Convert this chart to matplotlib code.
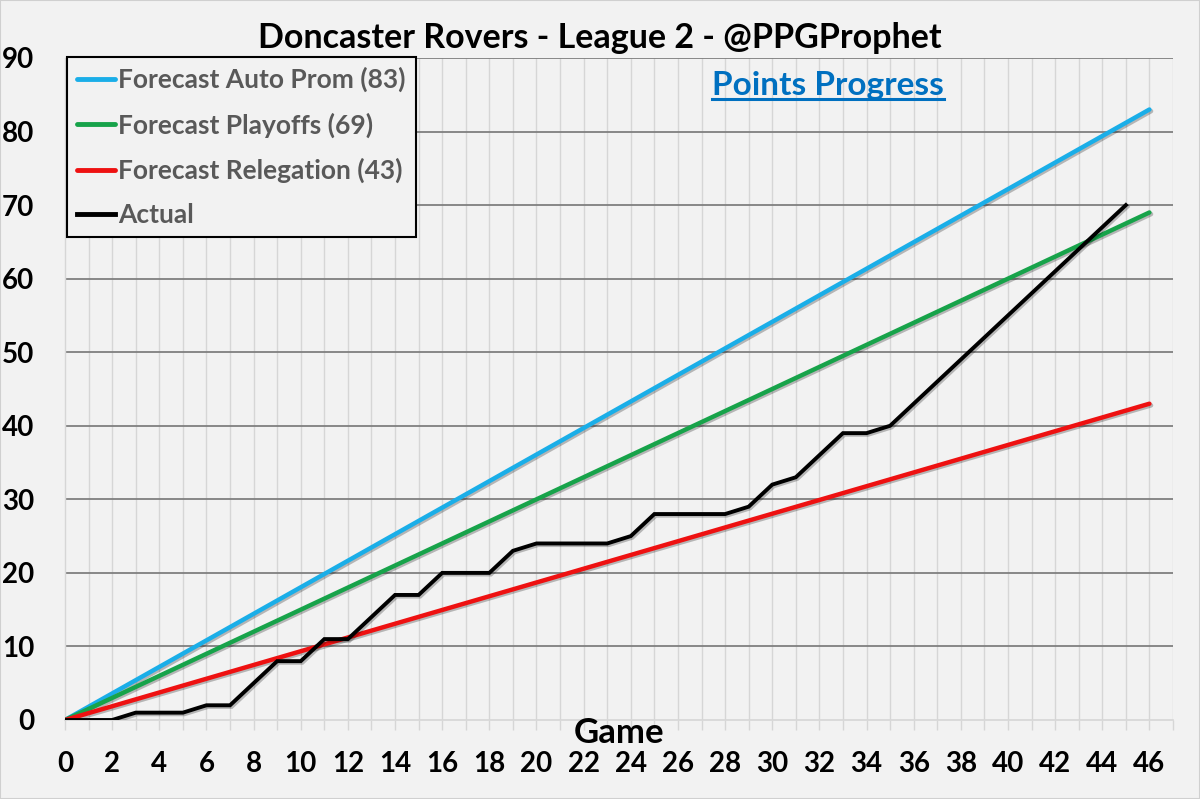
import matplotlib.pyplot as plt
import matplotlib.patheffects as pe
from matplotlib.lines import Line2D

# Forecast lines: straight from game 0 to game 46
forecast_games = [0, 46]
auto_prom = [0, 83]
playoffs = [0, 69]
relegation = [0, 43]

# Actual points, games 0..45
actual_games = list(range(0, 46))
actual_points = [0, 0, 0, 1, 1, 1, 2, 2, 5, 8, 8, 11, 11, 14, 17, 17, 20, 20, 20, 23,
                 24, 24, 24, 24, 25, 28, 28, 28, 28, 29, 32, 33, 36, 39, 39, 40, 43, 46,
                 49, 52, 55, 58, 61, 64, 67, 70]

x_ticks = list(range(0, 47, 2))
y_ticks = list(range(0, 91, 10))

plt.rcParams['font.family'] = ['Lato', 'DejaVu Sans']
plt.rcParams['font.weight'] = 'bold'

bg = '#f2f2f2'
dpi = 100
fig = plt.figure(figsize=(12, 7.99), dpi=dpi, facecolor=bg)
ax = fig.add_axes([65 / 1200, 79 / 799, (1173 - 65) / 1200, (720 - 58) / 799])
ax.set_facecolor(bg)

shadow = [pe.SimpleLineShadow(offset=(1.2, -1.2), alpha=0.25, shadow_color='black'), pe.Normal()]

ax.plot(forecast_games, auto_prom, color='#1aaee8', lw=3.2, solid_capstyle='round',
        label='Forecast Auto Prom (83)', path_effects=shadow, zorder=3)
ax.plot(forecast_games, playoffs, color='#17a34a', lw=3.2, solid_capstyle='round',
        label='Forecast Playoffs (69)', path_effects=shadow, zorder=3)
ax.plot(forecast_games, relegation, color='#ee1111', lw=3.2, solid_capstyle='round',
        label='Forecast Relegation (43)', path_effects=shadow, zorder=3)
ax.plot(actual_games, actual_points, color='black', lw=2.8, solid_joinstyle='miter',
        label='Actual', path_effects=shadow, zorder=4)

ax.set_xlim(0, 47)
ax.set_ylim(0, 90)

# vertical grid at every game, horizontal grid every 10
ax.set_xticks(x_ticks)
ax.set_xticks(range(0, 48), minor=True)
ax.set_yticks(y_ticks)
for g in range(1, 48):
    ax.axvline(g, color='#d6d6d6', lw=1, zorder=1)
for v in y_ticks[1:]:
    ax.axhline(v, color='#7f7f7f', lw=1.3, zorder=1.5)

for side in ['top', 'right']:
    ax.spines[side].set_visible(False)
ax.spines['left'].set_color('#d6d6d6')
ax.spines['bottom'].set_color('#d6d6d6')
ax.spines['left'].set_linewidth(1)
ax.spines['bottom'].set_linewidth(1.2)

ax.tick_params(axis='x', which='both', length=7.5, color='#d6d6d6', width=1,
               labelsize=20, pad=14.5)
ax.tick_params(axis='y', which='both', length=0, labelsize=20, pad=22)
for lab in ax.get_xticklabels() + ax.get_yticklabels():
    lab.set_fontweight('bold')

fig.text(619 / 1200, 1 - 733 / 799, 'Game', ha='center', va='center',
         fontsize=25, fontweight='bold')

fig.text(600 / 1200, 1 - 38 / 799, 'Doncaster Rovers - League 2 - @PPGProphet',
         ha='center', va='center', fontsize=24.5, fontweight='bold')

sub = fig.text(828 / 1200, 1 - 85 / 799, 'Points Progress', ha='center', va='center',
               fontsize=24, fontweight='bold', color='#0070c0')
fig.canvas.draw()
bb = sub.get_window_extent().transformed(fig.transFigure.inverted())
fig.add_artist(Line2D([bb.x0, bb.x1], [bb.y0 + 0.001, bb.y0 + 0.001],
                      color='#0070c0', lw=2.2, transform=fig.transFigure))

leg = ax.legend(loc='upper left', bbox_to_anchor=(67 / 1200, 1 - 57 / 799),
                bbox_transform=fig.transFigure, borderaxespad=0, fontsize=19,
                handlelength=1.45, handletextpad=0.12, labelspacing=0.76,
                borderpad=0.38, fancybox=False, framealpha=1, facecolor=bg,
                edgecolor='black')
leg.get_frame().set_linewidth(1.5)
for t in leg.get_texts():
    t.set_color('#595959')
    t.set_fontweight('bold')
for h in leg.get_lines():
    h.set_path_effects([])
    h.set_linewidth(3.5)
leg.set_zorder(10)

fig.patches.append(plt.Rectangle((0, 0), 1, 1, transform=fig.transFigure,
                                 fill=False, edgecolor='#d0d0d0', lw=1.5))

plt.savefig('out.png', dpi=dpi, facecolor=bg)
plt.close('all')
